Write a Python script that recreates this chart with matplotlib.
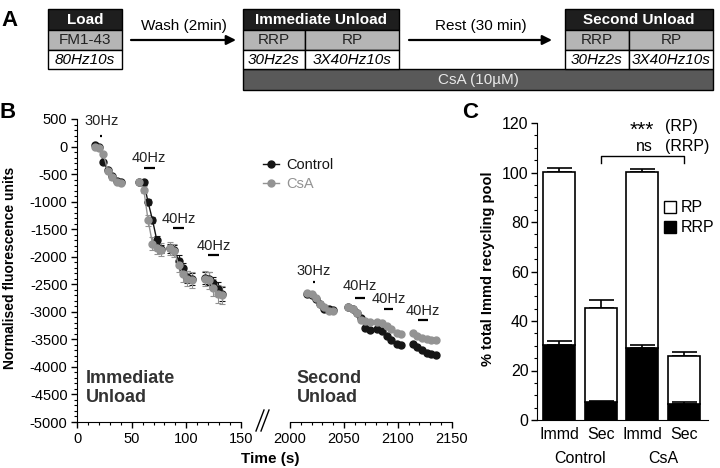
import matplotlib.pyplot as plt
import numpy as np
from matplotlib.lines import Line2D
from matplotlib.patches import Rectangle
from matplotlib.ticker import MultipleLocator

plt.rcParams['font.family'] = ['Liberation Sans', 'DejaVu Sans']
plt.rcParams['axes.unicode_minus'] = False

BLACK = '#151515'
GREY = '#939393'

# ---- panel B: immediate unload, one list per stimulus segment ----
imm_t = [[16, 20, 24, 28, 32, 36, 40],
         [57, 61, 65, 69, 73, 77],
         [85, 89, 93, 97, 101, 105],
         [117, 121, 125, 129, 133]]
imm_ctrl = [[30, -10, -280, -420, -540, -630, -650],
            [-640, -650, -1010, -1330, -1700, -1860],
            [-1850, -1870, -2070, -2210, -2360, -2400],
            [-2390, -2400, -2480, -2590, -2680]]
imm_ctrl_err = [[20, 20, 30, 30, 30, 30, 30],
                [30, 40, 50, 60, 70, 80],
                [80, 90, 100, 100, 110, 110],
                [110, 120, 120, 130, 130]]
imm_csa = [[0, -30, -140, -440, -560, -640, -660],
           [-645, -780, -1340, -1760, -1845, -1870],
           [-1850, -1890, -2150, -2310, -2400, -2420],
           [-2400, -2430, -2560, -2680, -2700]]
imm_csa_err = [[20, 20, 40, 40, 40, 40, 40],
               [40, 60, 100, 110, 110, 120],
               [110, 120, 130, 140, 140, 150],
               [140, 150, 150, 160, 160]]

# ---- panel B: second unload ----
sec_t = [[2016, 2020, 2024, 2028, 2032, 2036, 2040],
         [2054, 2058, 2062, 2066, 2070, 2074],
         [2081, 2085, 2090, 2094, 2099, 2103],
         [2114, 2118, 2122, 2127, 2131, 2135]]
sec_ctrl = [[-2670, -2690, -2760, -2850, -2940, -2950, -2960],
            [-2920, -2940, -3030, -3120, -3300, -3330],
            [-3320, -3340, -3430, -3520, -3590, -3610],
            [-3590, -3640, -3700, -3750, -3770, -3790]]
sec_csa = [[-2660, -2680, -2750, -2850, -2920, -2980, -2990],
           [-2920, -2940, -3030, -3150, -3170, -3190],
           [-3190, -3210, -3260, -3320, -3390, -3400],
           [-3390, -3430, -3480, -3500, -3520, -3520]]
sec_err = 35

# stimulus marks (start, end), height of bar and of label
stim_lbl = ['30Hz', '40Hz', '40Hz', '40Hz']
imm_stim = [(21, 23), (61, 71), (88, 98), (120, 130)]
imm_stim_y = [200, -390, -1480, -1970]
imm_lbl_y = [460, -210, -1310, -1800]
sec_stim = [(2021, 2023), (2060, 2070), (2087, 2096), (2119, 2128)]
sec_stim_y = [-2450, -2755, -2955, -3140]
sec_lbl_y = [-2260, -2540, -2770, -2990]

# ---- panel C ----
conds = ['Immd', 'Sec', 'Immd', 'Sec']
groups = ['Control', 'CsA']
total = np.array([100.3, 45.4, 100.1, 26.0])
total_err = np.array([1.5, 3.1, 1.2, 1.6])
rrp = np.array([30.4, 7.4, 29.2, 6.6])
rrp_err = np.array([1.6, 0.3, 1.3, 0.7])
rp = total - rrp

W, H = 720, 468
fig = plt.figure(figsize=(7.2, 4.68), dpi=100)


def px(x0, y0, x1, y1):
    return [x0 / W, 1 - y1 / H, (x1 - x0) / W, (y1 - y0) / H]


ov = fig.add_axes([0, 0, 1, 1], zorder=0)
ov.set_xlim(0, W)
ov.set_ylim(H, 0)
ov.axis('off')

# ---------------- panel A schematic ----------------
ov.text(10, 20, 'A', fontsize=16, fontweight='bold', ha='center', va='center')


def cell(x0, x1, y0, y1, fc, txt, **kw):
    ov.add_patch(Rectangle((x0, y0), x1 - x0, y1 - y0, facecolor=fc,
                           edgecolor='k', lw=1))
    ov.text((x0 + x1) / 2, (y0 + y1) / 2 + 0.5, txt, ha='center',
            va='center', fontsize=11, **kw)


HDR, ROW = '#1e1e1e', '#b5b5b5'
ov.add_patch(Rectangle((243, 69), 470, 21, facecolor='#595959',
                       edgecolor='k', lw=1))
ov.text(478, 80, 'CsA (10\u00b5M)', ha='center', va='center', fontsize=11,
        color='#e8e8e8')

cell(48, 122, 9, 30, HDR, 'Load', color='white', fontweight='bold')
cell(48, 122, 30, 50, ROW, 'FM1-43', color='#222')
cell(48, 122, 50, 69, 'white', '80Hz10s', style='italic')

cell(243, 399, 9, 30, HDR, 'Immediate Unload', color='white',
     fontweight='bold')
cell(243, 305, 30, 50, ROW, 'RRP', color='#222')
cell(305, 399, 30, 50, ROW, 'RP', color='#222')
cell(243, 305, 50, 69, 'white', '30Hz2s', style='italic')
cell(305, 399, 50, 69, 'white', '3X40Hz10s', style='italic')

cell(565, 713, 9, 30, HDR, 'Second Unload', color='white', fontweight='bold')
cell(565, 629, 30, 50, ROW, 'RRP', color='#222')
cell(629, 713, 30, 50, ROW, 'RP', color='#222')
cell(565, 629, 50, 69, 'white', '30Hz2s', style='italic')
cell(629, 713, 50, 69, 'white', '3X40Hz10s', style='italic')

for (xa, xb, lbl) in [(131, 236, 'Wash (2min)'), (409, 552, 'Rest (30 min)')]:
    ov.annotate('', xy=(xb, 40), xytext=(xa, 40),
                arrowprops=dict(arrowstyle='-|>', color='k', lw=1.6,
                                mutation_scale=14, shrinkA=0, shrinkB=0))
    ov.text((xa + xb) / 2, 26, lbl, ha='center', va='center', fontsize=11)

# ---------------- panel B ----------------
ov.text(8, 113, 'B', fontsize=16, fontweight='bold', ha='center', va='center')
ov.text(10, 268, 'Normalised fluorescence units', rotation=90, ha='center',
        va='center', fontsize=10, fontweight='bold')
ov.text(270, 459, 'Time (s)', ha='center', va='center', fontsize=11,
        fontweight='bold')
# axis break marks
for dx in (0, 5):
    ov.plot([256 + dx, 264 + dx], [431, 410], color='k', lw=1)

axL = fig.add_axes(px(77.3, 119, 240.7, 422))
axR = fig.add_axes(px(290, 119, 451.7, 422))

for ax, tt, cc, ce, ss, se in [
        (axL, imm_t, imm_ctrl, imm_ctrl_err, imm_csa, imm_csa_err),
        (axR, sec_t, sec_ctrl, [[sec_err] * len(s) for s in sec_t], sec_csa,
         [[sec_err] * len(s) for s in sec_t])]:
    for t, c, e1, s, e2 in zip(tt, cc, ce, ss, se):
        ax.errorbar(t, c, yerr=e1, color=BLACK, marker='o', ms=5, lw=1,
                    elinewidth=0.8, capsize=2, capthick=0.8, clip_on=False)
        ax.errorbar(t, s, yerr=e2, color=GREY, marker='o', ms=5, lw=1,
                    elinewidth=0.8, capsize=2, capthick=0.8, clip_on=False)

for ax, stim, sy, ly in [(axL, imm_stim, imm_stim_y, imm_lbl_y),
                         (axR, sec_stim, sec_stim_y, sec_lbl_y)]:
    for (a, b), y, yl, lbl in zip(stim, sy, ly, stim_lbl):
        ax.plot([a, b], [y, y], color='k', lw=1.6, solid_capstyle='butt',
                clip_on=False)
        ax.text((a + b) / 2, yl, lbl, ha='center', va='center',
                fontsize=10.5, color='#222')

axL.set_xlim(0, 150)
axR.set_xlim(2000, 2150)
for ax in (axL, axR):
    ax.set_ylim(-5000, 500)
    ax.patch.set_alpha(0)
    for s in ('top', 'right'):
        ax.spines[s].set_visible(False)
    ax.xaxis.set_major_locator(MultipleLocator(50))
    ax.xaxis.set_minor_locator(MultipleLocator(10))
    ax.tick_params(which='major', length=4, width=1, labelsize=10.5, pad=3)
    ax.tick_params(which='minor', length=2.5, width=0.8)
axL.yaxis.set_major_locator(MultipleLocator(500))
axL.yaxis.set_minor_locator(MultipleLocator(100))
axR.spines['left'].set_visible(False)
axR.tick_params(axis='y', which='both', left=False, labelleft=False)

axL.text(8, -4390, 'Immediate\nUnload', fontsize=13, fontweight='bold',
         color='#333', va='center', ha='left', linespacing=1.15)
axR.text(2006, -4390, 'Second\nUnload', fontsize=13, fontweight='bold',
         color='#333', va='center', ha='left', linespacing=1.15)

hl = [Line2D([0], [0], color=BLACK, marker='o', ms=5, lw=1),
      Line2D([0], [0], color=GREY, marker='o', ms=5, lw=1)]
fig.legend(hl, ['Control', 'CsA'], loc='upper left',
           bbox_to_anchor=(256 / W, 1 - 151 / H), frameon=False,
           fontsize=10.5, handlelength=1.1, handletextpad=0.45,
           labelspacing=0.3, borderpad=0, labelcolor=[BLACK, GREY])

# ---------------- panel C ----------------
ov.text(470, 113, 'C', fontsize=16, fontweight='bold', ha='center',
        va='center')
ov.text(488, 269, '% total Immd recycling pool', rotation=90, ha='center',
        va='center', fontsize=10.5, fontweight='bold')

axC = fig.add_axes(px(537, 123, 708, 420))
x = np.arange(len(conds))
bw = 0.77
zeros = np.zeros(len(conds))
axC.errorbar(x, total, yerr=[zeros, total_err], fmt='none', ecolor='k',
             elinewidth=1.2, capsize=9, capthick=1.2, zorder=1)
axC.bar(x, rrp, width=bw, color='k', edgecolor='k', lw=1.2, zorder=2)
axC.bar(x, rp, bottom=rrp, width=bw, color='white', edgecolor='k', lw=1.2,
        zorder=2)
axC.errorbar(x, rrp, yerr=[zeros, rrp_err], fmt='none', ecolor='k',
             elinewidth=1.2, capsize=9, capthick=1.2, zorder=3)

axC.set_xlim(-0.53, 3.58)
axC.set_ylim(0, 120)
axC.patch.set_alpha(0)
for s in ('top', 'right'):
    axC.spines[s].set_visible(False)
axC.yaxis.set_major_locator(MultipleLocator(20))
axC.yaxis.set_minor_locator(MultipleLocator(5))
axC.tick_params(axis='y', which='major', length=4, width=1, labelsize=11.5,
                pad=2)
axC.tick_params(axis='y', which='minor', length=2.5, width=0.8)
axC.set_xticks(x)
axC.set_xticklabels(conds)
axC.tick_params(axis='x', length=0, labelsize=11.5, pad=5)
for i, g in enumerate(groups):
    axC.text(2 * i + 0.5, -0.128, g, transform=axC.get_xaxis_transform(),
             ha='center', va='center', fontsize=11.5)

axC.plot([1, 1, 3, 3], [103.8, 106.5, 106.5, 103.8], color='k', lw=1)
axC.text(2.0, 117.0, '***', ha='center', va='center', fontsize=15)
axC.text(2.06, 110.5, 'ns', ha='center', va='center', fontsize=11.5)
axC.text(2.55, 118.5, '(RP)', ha='left', va='center', fontsize=11.5)
axC.text(2.55, 110.5, '(RRP)', ha='left', va='center', fontsize=11.5)

# legend for panel C
for yy, fc, lbl in [(207, 'white', 'RP'), (227, 'black', 'RRP')]:
    ov.add_patch(Rectangle((664, yy - 6), 12, 12, facecolor=fc,
                           edgecolor='k', lw=1))
    ov.text(681, yy, lbl, ha='left', va='center', fontsize=11.5)

fig.savefig('out.png', dpi=100)
